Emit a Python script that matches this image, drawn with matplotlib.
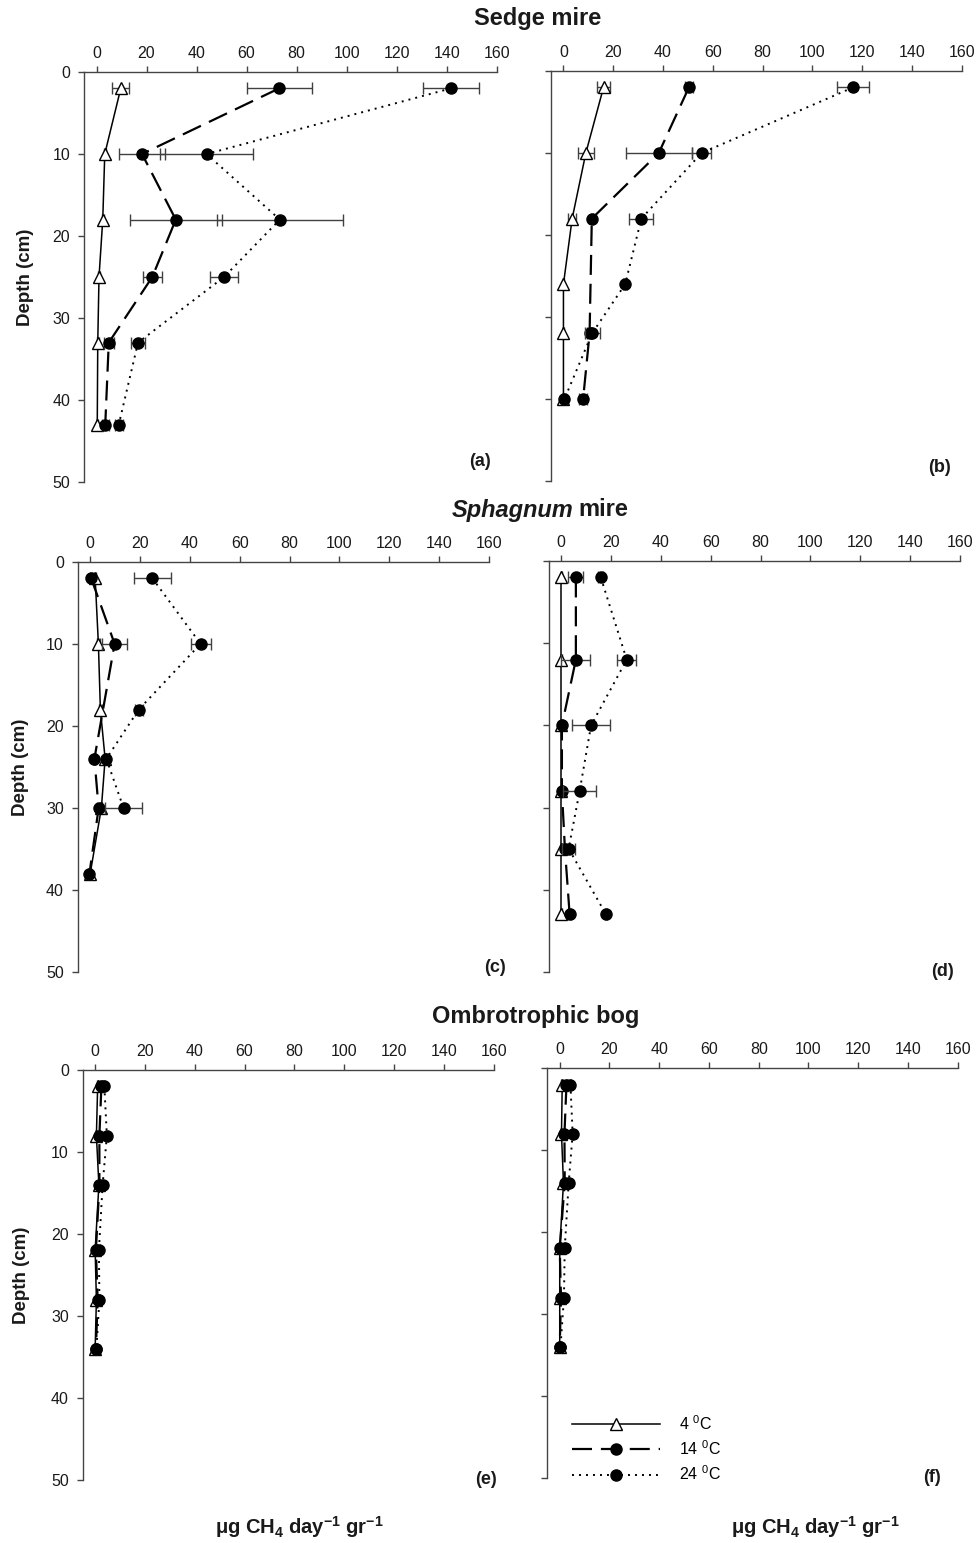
import matplotlib
matplotlib.use('Agg')
import matplotlib.pyplot as plt

plt.rcParams['font.family'] = ['Liberation Sans', 'DejaVu Sans']
plt.rcParams['mathtext.fontset'] = 'custom'
plt.rcParams['mathtext.rm'] = 'Liberation Sans'
plt.rcParams['mathtext.bf'] = 'Liberation Sans:bold'
plt.rcParams['mathtext.it'] = 'Liberation Sans:italic'

# ---- data (depth in cm, CH4 production, standard error) ----
# (a) Sedge mire, left
a_depth = [2, 10, 18, 25, 33, 43]
a_4 = [9.7, 3.3, 2.5, 1.0, 0.5, 0.3]
a_4_se = [3.4, 0.5, 0.5, 0.3, 0.3, 0.3]
a_14 = [73.0, 18.2, 31.7, 22.3, 4.9, 3.5]
a_14_se = [13.0, 9.3, 18.4, 3.7, 2.0, 1.5]
a_24 = [141.7, 44.0, 73.3, 51.0, 16.6, 8.9]
a_24_se = [11.2, 18.7, 25.3, 5.7, 2.7, 1.5]

# (b) Sedge mire, right
b_4_depth = [2, 10, 18, 26, 32, 40]
b_4 = [16.1, 9.0, 3.5, 0.0, 0.0, 0.0]
b_4_se = [2.7, 3.3, 1.5, 0.2, 0.2, 0.2]
b_14_depth = [2, 10, 18, 32, 40]
b_14 = [50.4, 38.3, 11.4, 10.5, 7.9]
b_14_se = [1.5, 13.3, 0.5, 1.0, 1.5]
b_24_depth = [2, 10, 18, 26, 32, 40]
b_24 = [116.4, 55.5, 31.3, 24.8, 11.5, 0.4]
b_24_se = [6.3, 3.9, 4.8, 0.8, 3.0, 0.5]

# (c) Sphagnum mire, left
c_4_depth = [2, 10, 18, 24, 30, 38]
c_4 = [2.0, 3.3, 4.1, 6.0, 4.5, 0.0]
c_4_se = [0.3, 0.5, 0.5, 0.3, 0.3, 0.3]
c_14_depth = [2, 10, 24, 30, 38]
c_14 = [0.4, 9.8, 1.7, 3.4, -0.3]
c_14_se = [0.5, 5.0, 0.5, 0.5, 0.5]
c_24_depth = [2, 10, 18, 24, 30]
c_24 = [24.9, 44.3, 19.5, 6.5, 13.4]
c_24_se = [7.5, 4.0, 1.5, 0.5, 7.5]

# (d) Sphagnum mire, right
d_depth = [2, 12, 20, 28, 35, 43]
d_4 = [0.0, 0.0, 0.0, 0.0, 0.0, 0.0]
d_4_se = [0.2, 0.2, 0.2, 0.2, 0.2, 0.2]
d_14 = [5.9, 5.9, 0.3, 0.3, 1.5, 3.4]
d_14_se = [3.0, 5.8, 0.3, 0.3, 0.5, 0.5]
d_24 = [15.9, 26.3, 12.0, 7.4, 3.0, 18.0]
d_24_se = [1.0, 3.9, 7.7, 6.6, 2.5, 0.5]

# (e) Ombrotrophic bog, left
e_depth = [2, 8, 14, 22, 28, 34]
e_4 = [1.0, 0.5, 1.5, 0.0, 0.5, 0.0]
e_14 = [2.5, 1.7, 1.7, 0.3, 1.0, 0.3]
e_24 = [3.7, 4.7, 3.0, 1.5, 1.7, 0.5]
e_se = [0.3, 0.3, 0.3, 0.3, 0.3, 0.3]

# (f) Ombrotrophic bog, right
f_depth = [2, 8, 14, 22, 28, 34]
f_4 = [1.0, 0.7, 1.5, 0.0, 0.0, 0.0]
f_14 = [2.7, 1.9, 2.0, 0.0, 0.5, 0.0]
f_24 = [4.3, 5.2, 3.6, 2.0, 1.7, 0.3]
f_se = [0.3, 0.3, 0.3, 0.3, 0.3, 0.3]

labels = ['4 $^0$C', '14 $^0$C', '24 $^0$C']

# ---- figure ----
W, H = 977, 1543
fig = plt.figure(figsize=(W / 100, H / 100), dpi=100)
fig.patch.set_facecolor('white')

AX_COL = '#444444'
TXT_COL = '#1a1a1a'

styles = [
    dict(ls='-', lw=1.1, marker='^', ms=9, mfc='white', mec='black', mew=1.0, color='black', zorder=3),
    dict(ls=(0, (9, 4)), lw=1.6, marker='o', ms=8, mfc='black', mec='black', color='black', zorder=4),
    dict(ls=(0, (1, 2.6)), lw=1.4, marker='o', ms=8, mfc='black', mec='black', color='black', zorder=5),
]


def px_axes(left, top, right, bottom):
    return fig.add_axes([left / W, 1 - bottom / H, (right - left) / W, (bottom - top) / H])


def setup(ax, ylabels=True):
    ax.set_xlim(-5, 160)
    ax.set_ylim(50, 0)
    ax.set_xticks(range(0, 161, 20))
    ax.set_yticks(range(0, 51, 10))
    ax.xaxis.tick_top()
    for s in ['right', 'bottom']:
        ax.spines[s].set_visible(False)
    for s in ['left', 'top']:
        ax.spines[s].set_color(AX_COL)
        ax.spines[s].set_linewidth(1.0)
    ax.tick_params(axis='x', direction='out', length=4, width=1, color=AX_COL,
                   labelsize=11.5, labelcolor=TXT_COL, pad=4)
    ax.tick_params(axis='y', direction='out', length=4, width=1, color=AX_COL,
                   labelsize=11.5, labelcolor=TXT_COL, pad=6, labelleft=ylabels)


def draw(ax, series):
    lines = []
    for (depth, vals, se), st in zip(series, styles):
        ax.errorbar(vals, depth, xerr=se, fmt='none', ecolor='#404040',
                    elinewidth=1.0, capsize=4, capthick=1.0, zorder=st['zorder'] - 0.5)
        ln, = ax.plot(vals, depth, **st)
        lines.append(ln)
    return lines


ax_a = px_axes(84, 72, 496.7, 482)
ax_b = px_axes(551, 71, 961.7, 481)
ax_c = px_axes(77.7, 561.7, 489, 972.3)
ax_d = px_axes(548.7, 561, 960, 972)
ax_e = px_axes(82.7, 1070, 493.7, 1480)
ax_f = px_axes(547.3, 1068.3, 957.7, 1477.7)

for ax in [ax_a, ax_c, ax_e]:
    setup(ax, True)
for ax in [ax_b, ax_d, ax_f]:
    setup(ax, False)

draw(ax_a, [(a_depth, a_4, a_4_se), (a_depth, a_14, a_14_se), (a_depth, a_24, a_24_se)])
draw(ax_b, [(b_4_depth, b_4, b_4_se), (b_14_depth, b_14, b_14_se), (b_24_depth, b_24, b_24_se)])
draw(ax_c, [(c_4_depth, c_4, c_4_se), (c_14_depth, c_14, c_14_se), (c_24_depth, c_24, c_24_se)])
draw(ax_d, [(d_depth, d_4, d_4_se), (d_depth, d_14, d_14_se), (d_depth, d_24, d_24_se)])
draw(ax_e, [(e_depth, e_4, e_se), (e_depth, e_14, e_se), (e_depth, e_24, e_se)])
leg_lines = draw(ax_f, [(f_depth, f_4, f_se), (f_depth, f_14, f_se), (f_depth, f_24, f_se)])

ax_f.legend(leg_lines, labels, loc='upper left', bbox_to_anchor=(0.06, 0.155),
            frameon=False, fontsize=11.5, handlelength=5.5, handletextpad=1.2,
            labelspacing=0.4, borderpad=0, borderaxespad=0, numpoints=1)

# panel letters
for (x, y, t) in [(480.5, 462, '(a)'), (939.5, 468, '(b)'), (495, 967, '(c)'),
                  (942, 972, '(d)'), (486, 1479, '(e)'), (932.5, 1477, '(f)')]:
    fig.text(x / W, 1 - y / H, t, ha='center', va='center', fontsize=13,
             fontweight='bold', color=TXT_COL)

# y labels
for (x, y) in [(25, 277), (20.5, 767), (22, 1275)]:
    fig.text(x / W, 1 - y / H, 'Depth (cm)', rotation=90, ha='center', va='center',
             fontsize=13.5, fontweight='bold', color=TXT_COL)

# section titles
fig.text(537.5 / W, 1 - 18 / H, 'Sedge mire', ha='center', va='center',
         fontsize=17, fontweight='bold', color=TXT_COL)
fig.text(573 / W, 1 - 510 / H, 'Sphagnum', ha='right', va='center',
         fontsize=17, fontweight='bold', fontstyle='italic', color=TXT_COL)
fig.text(578 / W, 1 - 510 / H, 'mire', ha='left', va='center',
         fontsize=17, fontweight='bold', color=TXT_COL)
fig.text(536 / W, 1 - 1017 / H, 'Ombrotrophic bog', ha='center', va='center',
         fontsize=17, fontweight='bold', color=TXT_COL)

# x labels
xlab = r'μg CH$_{\mathbf{4}}$ day$^{\mathbf{-1}}$ gr$^{\mathbf{-1}}$'
for x in [299, 815]:
    fig.text(x / W, 1 - 1527 / H, xlab, ha='center', va='center',
             fontsize=14.5, fontweight='bold', color=TXT_COL)

fig.savefig('out.png', dpi=100, facecolor='white')
